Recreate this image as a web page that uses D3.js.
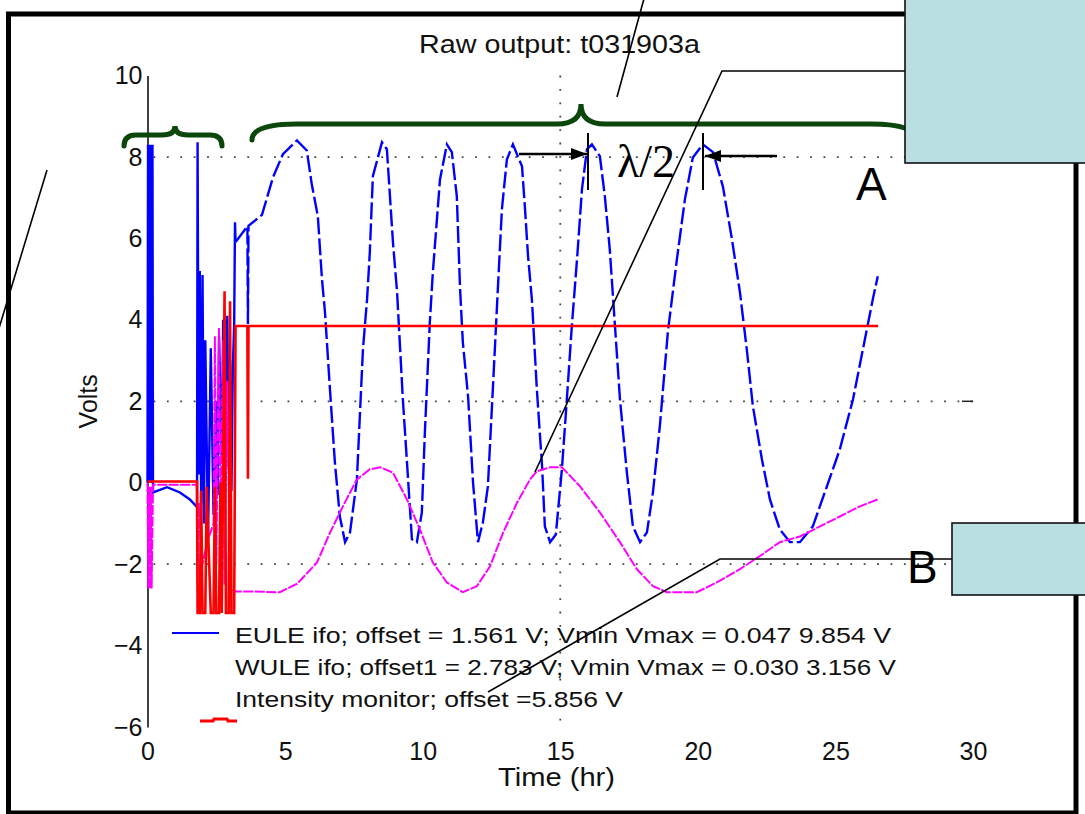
<!DOCTYPE html>
<html>
<head>
<meta charset="UTF-8">
<style>
  body { margin: 0; background: #fff; }
  svg { display: block; font-family: "Liberation Sans", Arial, sans-serif; }
</style>
</head>
<body>
<svg width="1085" height="814"></svg>
<script src="https://d3js.org/d3.v7.min.js"></script>
<script>
// ---- data: [time (hr), volts] ----
// EULE ifo, start-up part (solid)
const euleStart = [
  [0,0],[0.02,8.3],[0.04,0],[0.06,8.3],[0.08,0],[0.10,8.3],[0.12,0],[0.14,8.3],[0.16,0],[0.18,8.3],
  [0.2,-0.24],[0.71,-0.11],[1.18,-0.24],[1.54,-0.41],[1.80,-0.6],
  [1.82,8.36],[1.86,0.2],[1.90,5.2],[1.95,-0.5],[2.0,5.1],[2.05,-1.0],[2.1,3.5],[2.2,-1.4],
  [2.3,3.3],[2.4,-0.8],[2.5,2.0],[2.55,-0.3],[2.6,3.6],[2.7,0.5],[2.75,4.0],[2.8,-0.5],
  [2.9,4.1],[2.95,0.4],[3.0,3.0],[3.05,-0.2],[3.1,2.8],[3.15,3.9],[3.18,6.4],[3.2,5.91]
];
// EULE ifo, fringe scan (dashed)
const euleScan = [
  [3.2,5.91],[3.63,6.3],[3.65,3.9],[3.67,6.31],[4.16,6.58],[4.56,7.50],[4.92,8.07],[5.43,8.41],
  [5.79,8.16],[5.97,7.33],[6.19,6.55],[6.34,5.00],[6.45,4.19],[6.63,2.30],[6.81,0.50],[6.99,-0.83],
  [7.18,-1.46],[7.36,-1.22],[7.61,0.08],[7.83,3.28],[7.98,4.51],[8.08,5.67],[8.19,7.53],[8.52,8.36],
  [8.70,8.19],[8.92,5.91],[9.07,4.68],[9.28,2.05],[9.43,0.50],[9.61,-1.39],[9.79,-1.46],[9.97,-0.73],
  [10.08,1.24],[10.26,3.94],[10.37,5.17],[10.63,7.45],[10.88,8.31],[11.06,8.12],[11.24,7.04],
  [11.36,4.75],[11.46,3.45],[11.65,2.12],[11.83,0.01],[12.01,-1.46],[12.19,-0.97],[12.37,-0.09],
  [12.55,2.29],[12.70,4.33],[12.88,6.72],[13.06,7.94],[13.28,8.31],[13.61,7.77],[13.72,6.72],
  [13.83,5.56],[13.97,4.50],[14.15,2.29],[14.34,0.40],[14.44,-1.07],[14.63,-1.46],[14.84,-1.27],
  [15.06,0.33],[15.24,2.05],[15.42,3.84],[15.61,5.49],[15.79,7.21],[15.97,8.19],[16.15,8.31],
  [16.44,8.02],[16.62,7.04],[16.80,5.73],[16.99,3.84],[17.17,2.05],[17.42,0.26],[17.64,-1.07],
  [17.90,-1.46],[18.15,-1.22],[18.37,-0.23],[18.62,1.39],[18.91,3.70],[19.24,5.49],[19.53,6.96],
  [19.82,7.99],[20.18,8.31],[20.55,8.12],[20.91,7.28],[21.24,5.98],[21.53,4.68],[21.79,3.21],
  [22.00,1.88],[22.33,0.57],[22.62,-0.41],[22.98,-1.15],[23.35,-1.46],[23.71,-1.46],[24.18,-1.07],
  [24.69,-0.09],[25.16,0.82],[25.64,2.05],[26.00,3.28],[26.36,4.51],[26.54,5.07]
];
// WULE ifo (magenta)
const wuleTrace = [
  [0,0],[0.03,-2.6],[0.06,-0.1],[0.09,-2.6],[0.12,-0.1],[0.15,-2.6],[0.2,-0.05],[1.8,-0.05],
  [1.82,-2.5],[1.88,-0.5],[2.0,-2.0],[2.15,-1.5],[2.4,-1.0],[2.45,3.6],[2.5,-2.0],[2.6,3.8],
  [2.65,-1.0],[2.75,3.5],[2.8,-2.5],[2.9,2.5],[3.0,-2.6],[3.2,-2.67],[3.65,-2.67],[4.81,-2.69],
  [5.44,-2.48],[6.16,-1.96],[6.63,-1.23],[7.10,-0.58],[7.61,0.08],[8.08,0.33],[8.45,0.38],
  [8.92,0.25],[9.43,-0.41],[9.90,-1.15],[10.37,-1.96],[10.88,-2.45],[11.46,-2.69],[11.97,-2.54],
  [12.45,-2.05],[12.92,-1.23],[13.43,-0.49],[13.90,0.08],[14.15,0.28],[14.63,0.38],[15.06,0.38],
  [15.72,-0.09],[16.44,-0.73],[17.17,-1.46],[17.78,-2.12],[18.37,-2.54],[18.88,-2.69],[19.96,-2.69],
  [20.69,-2.45],[21.53,-2.12],[22.26,-1.80],[22.98,-1.46],[23.71,-1.32],[24.44,-1.07],[25.16,-0.83],
  [25.89,-0.58],[26.54,-0.41]
];
// Intensity monitor (red)
const intensityTrace = [
  [0,0.03],[1.8,0.03],[1.82,-3.2],[1.9,-3.2],[1.95,-0.2],[2.0,-3.2],[2.1,-3.2],[2.15,-0.1],
  [2.3,-3.2],[2.4,-3.2],[2.45,-0.1],[2.5,-3.2],[2.6,-3.2],[2.65,0.0],[2.7,-3.2],[2.8,4.7],
  [2.85,-3.2],[2.95,-3.2],[3.0,4.46],[3.05,-3.2],[3.15,-3.2],[3.2,3.85],[3.63,3.85],[3.65,0.1],
  [3.67,3.85],[26.55,3.85]
];

const xTicks = [0, 5, 10, 15, 20, 25, 30];
const yTicks = [-6, -4, -2, 0, 2, 4, 6, 8, 10];
const xGridAt = [15];
const yGridAt = [8, 2, -2];
const legendLabels = [
  "EULE ifo; offset = 1.561 V; Vmin Vmax = 0.047 9.854 V",
  "WULE ifo; offset1 = 2.783 V; Vmin Vmax = 0.030 3.156 V",
  "Intensity monitor; offset =5.856 V"
];
const legendWidths = [656, 661, 388];

let svg = d3.select("svg");

let x = d3.scaleLinear().domain([0, 30]).range([147.5, 973]);
let y = d3.scaleLinear().domain([-6, 10]).range([727, 75.6]);

// dotted grid
let grid = svg.append("g")
  .attr("stroke", "#444")
  .attr("stroke-width", 1.8)
  .attr("stroke-dasharray", "1.8,11.6");
grid.selectAll(".gy").data(yGridAt).enter().append("line")
  .attr("x1", x(0) + 6).attr("x2", x(30))
  .attr("y1", d => y(d)).attr("y2", d => y(d));
grid.selectAll(".gx").data(xGridAt).enter().append("line")
  .attr("x1", d => x(d)).attr("x2", d => x(d))
  .attr("y1", y(10)).attr("y2", y(-6));

// small tick at right end of the 2 V grid line
svg.append("line")
  .attr("x1", x(29.6)).attr("x2", x(30)).attr("y1", y(2)).attr("y2", y(2))
  .attr("stroke", "#222").attr("stroke-width", 1.5);

// axes
let yAxis = svg.append("g")
  .attr("transform", "translate(" + x(0) + ",0)")
  .call(d3.axisLeft(y).tickValues(yTicks).tickSize(0).tickPadding(5));
yAxis.select(".domain").attr("stroke", "#111").attr("stroke-width", 1.6);
yAxis.selectAll("text").attr("font-size", 25).attr("fill", "#111")
  .attr("font-family", "Liberation Sans, Arial, sans-serif");

let xAxis = svg.append("g")
  .attr("transform", "translate(0," + y(-6) + ")")
  .call(d3.axisBottom(x).tickValues(xTicks).tickSize(0).tickPadding(15));
xAxis.select(".domain").remove();
xAxis.selectAll("text").attr("font-size", 25).attr("fill", "#111")
  .attr("font-family", "Liberation Sans, Arial, sans-serif");

// axis titles
svg.append("text")
  .attr("transform", "translate(97," + y(2) + ") rotate(-90)")
  .attr("text-anchor", "middle")
  .attr("font-size", 25).attr("fill", "#111")
  .text("Volts");
svg.append("text")
  .attr("x", 498).attr("y", 786)
  .attr("textLength", 117).attr("lengthAdjust", "spacingAndGlyphs")
  .attr("font-size", 25).attr("fill", "#111")
  .text("Time (hr)");
svg.append("text")
  .attr("x", 419).attr("y", 53)
  .attr("textLength", 281).attr("lengthAdjust", "spacingAndGlyphs")
  .attr("font-size", 26).attr("fill", "#111")
  .text("Raw output: t031903a");

// traces
let line = d3.line().x(d => x(d[0])).y(d => y(d[1]));

svg.append("path").datum(euleStart)
  .attr("d", line).attr("fill", "none")
  .attr("stroke", "#0000ff").attr("stroke-width", 2.4);
svg.append("path").datum(euleScan)
  .attr("d", line).attr("fill", "none")
  .attr("stroke", "#0000ff").attr("stroke-width", 2.4)
  .attr("stroke-dasharray", "17,4");
svg.append("path").datum(wuleTrace)
  .attr("d", line).attr("fill", "none")
  .attr("stroke", "#ff00ff").attr("stroke-width", 2)
  .attr("stroke-dasharray", "10,1.5");
svg.append("path").datum(intensityTrace)
  .attr("d", line).attr("fill", "none")
  .attr("stroke", "#ff0000").attr("stroke-width", 2.6);

// legend
svg.append("line")
  .attr("x1", 172).attr("x2", 219).attr("y1", 633).attr("y2", 633)
  .attr("stroke", "#0000ff").attr("stroke-width", 2);
svg.append("path")
  .attr("d", "M200,721 L213,721 L214,719 L227,719 L228,721 L237,721")
  .attr("fill", "none").attr("stroke", "#ff0000").attr("stroke-width", 3);
svg.selectAll(".leg").data(legendLabels).enter().append("text")
  .attr("x", 235)
  .attr("y", (d, i) => 643 + i * 32)
  .attr("textLength", (d, i) => legendWidths[i])
  .attr("lengthAdjust", "spacingAndGlyphs")
  .attr("font-size", 22).attr("fill", "#111")
  .text(d => d);

// ---- slide annotations ----
function brace(x1, x2, xm, yEnd, yBar, yTip, r, r2) {
  return "M" + x1 + "," + yEnd +
    " Q" + x1 + "," + yBar + " " + (x1 + r) + "," + yBar +
    " L" + (xm - r2) + "," + yBar +
    " Q" + xm + "," + yBar + " " + xm + "," + yTip +
    " Q" + xm + "," + yBar + " " + (xm + r2) + "," + yBar +
    " L" + (x2 - r) + "," + yBar +
    " Q" + x2 + "," + yBar + " " + x2 + "," + yEnd;
}
svg.append("path")
  .attr("d", brace(124, 222, 175, 146, 135, 126, 12, 13))
  .attr("fill", "none").attr("stroke", "#0b460b").attr("stroke-width", 5)
  .attr("stroke-linecap", "round");
svg.append("path")
  .attr("d", brace(252, 916, 581, 140, 124, 104, 45, 24))
  .attr("fill", "none").attr("stroke", "#0b460b").attr("stroke-width", 5)
  .attr("stroke-linecap", "round");

// pointer lines
let pointers = [
  "M645,-5 L617,97",
  "M47,170 L-3,335",
  "M906,71 L722,71 L535,472",
  "M953,559 L720,559 L488,692"
];
svg.selectAll(".ptr").data(pointers).enter().append("path")
  .attr("d", d => d)
  .attr("fill", "none").attr("stroke", "#000").attr("stroke-width", 1.6);

// lambda/2 marker
svg.append("defs").append("marker")
  .attr("id", "arrow")
  .attr("viewBox", "0 -6 16 12")
  .attr("refX", 16).attr("refY", 0)
  .attr("markerWidth", 16).attr("markerHeight", 12)
  .attr("markerUnits", "userSpaceOnUse")
  .attr("orient", "auto")
  .append("path")
  .attr("d", "M0,-6L16,0L0,6Z").attr("fill", "#000");

svg.append("line").attr("x1", 519).attr("y1", 154).attr("x2", 587).attr("y2", 154)
  .attr("stroke", "#000").attr("stroke-width", 2.5).attr("marker-end", "url(#arrow)");
svg.append("line").attr("x1", 777).attr("y1", 156).attr("x2", 705).attr("y2", 156)
  .attr("stroke", "#000").attr("stroke-width", 2.5).attr("marker-end", "url(#arrow)");
svg.append("line").attr("x1", 588).attr("y1", 133).attr("x2", 588).attr("y2", 190)
  .attr("stroke", "#000").attr("stroke-width", 2);
svg.append("line").attr("x1", 703).attr("y1", 133).attr("x2", 703).attr("y2", 190)
  .attr("stroke", "#000").attr("stroke-width", 2);
svg.append("text")
  .attr("x", 617).attr("y", 177)
  .attr("font-family", "Liberation Serif, Times New Roman, serif")
  .attr("font-size", 46).attr("fill", "#000")
  .text("λ/2");

// outer frame
svg.append("rect")
  .attr("x", 8.5).attr("y", 14).attr("width", 1067.5).attr("height", 799)
  .attr("fill", "none").attr("stroke", "#000").attr("stroke-width", 5);

// callout boxes
svg.append("rect")
  .attr("x", 905).attr("y", -10).attr("width", 200).attr("height", 173)
  .attr("fill", "#badfe2").attr("stroke", "#111").attr("stroke-width", 1.6);
svg.append("rect")
  .attr("x", 952).attr("y", 523).attr("width", 150).attr("height", 72)
  .attr("fill", "#badfe2").attr("stroke", "#111").attr("stroke-width", 1.6);

svg.append("text").attr("x", 856).attr("y", 200)
  .attr("font-size", 46).attr("fill", "#000").text("A");
svg.append("text").attr("x", 907).attr("y", 583)
  .attr("font-size", 46).attr("fill", "#000").text("B");
</script>
</body>
</html>
